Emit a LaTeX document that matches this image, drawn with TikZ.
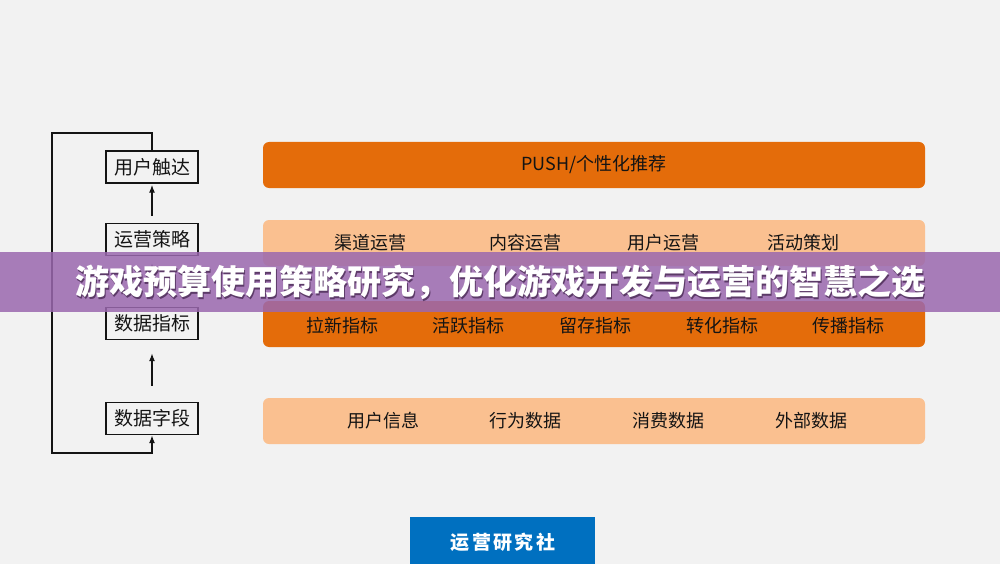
\documentclass[tikz,border=0pt]{standalone}
\usepackage{fontspec}
\setmainfont{Noto Sans CJK SC}
\newfontfamily\brandfont[LetterSpace=12]{Noto Sans CJK SC}
\usetikzlibrary{arrows.meta}
\definecolor{bggray}{RGB}{242,242,242}
\definecolor{darkorange}{RGB}{228,108,10}
\definecolor{lightorange}{RGB}{250,192,144}
\definecolor{bannerpurple}{RGB}{154,104,175}
\definecolor{bannershade}{RGB}{92,58,104}
\definecolor{blueplate}{RGB}{0,112,192}
\definecolor{ink}{RGB}{20,20,20}
\newcommand{\titletext}{游戏预算使用策略研究，优化游戏开发与运营的智慧之选}
\tikzset{
  stage/.style={draw=ink, line width=1.4pt, fill=bggray, minimum width=92pt, minimum height=32pt,
    inner sep=0pt, font=\fontsize{19}{19}\selectfont, text=ink},
  flow/.style={-{Latex[length=8pt,width=6pt]}, line width=1.4pt, draw=ink},
  bar/.style={rounded corners=6pt, minimum width=662pt, minimum height=46pt, inner sep=0pt},
  bartext/.style={font=\fontsize{18}{18}\selectfont, text=ink},
}
\begin{document}
\begin{tikzpicture}[x=1pt, y=-1pt]
  \clip (0,0) rectangle (1000,564);
  \fill[bggray] (0,0) rectangle (1000,564);

  % left column
  \node[stage] (touch) at (152,167) {用户触达};
  \node[stage] (strategy) at (152,239.5) {运营策略};
  \node[stage] (metric) at (152,323.5) {数据指标};
  \node[stage] (field) at (152,418.5) {数据字段};
  \draw[flow, shorten <=7pt, shorten >=1pt] (strategy) -- (touch);
  \draw[flow, shorten <=7pt, shorten >=7pt] (metric) -- (strategy);
  \draw[flow, shorten <=16pt, shorten >=13pt] (field) -- (metric);
  \coordinate (loopnw) at (52,133);
  \coordinate (loopsw) at (52,453);
  \draw[flow] (touch.north) |- (loopnw) -- (loopsw) -| (field.south);

  % right bars
  \node[bar, fill=darkorange, bartext] (push) at (594,165) {PUSH/个性化推荐};
  \node[bar, fill=lightorange] (ops) at (594,243) {};
  \node[bar, fill=darkorange] (index) at (594,324) {};
  \node[bar, fill=lightorange] (data) at (594,421) {};

  \node[bartext] (ops1) at (370,243) {渠道运营};
  \node[bartext] (ops2) at (525,243) {内容运营};
  \node[bartext] (ops3) at (663,243) {用户运营};
  \node[bartext] (ops4) at (803,243) {活动策划};

  \node[bartext] (index1) at (342,326) {拉新指标};
  \node[bartext] (index2) at (468,326) {活跃指标};
  \node[bartext] (index3) at (595,326) {留存指标};
  \node[bartext] (index4) at (722,326) {转化指标};
  \node[bartext] (index5) at (848,326) {传播指标};

  \node[bartext] (data1) at (383,421) {用户信息};
  \node[bartext] (data2) at (525,421) {行为数据};
  \node[bartext] (data3) at (668,421) {消费数据};
  \node[bartext] (data4) at (811,421) {外部数据};

  % bottom plate
  \node[fill=blueplate, minimum width=185pt, minimum height=52pt, anchor=north] (brand) at (502.5,517) {};
  \node[text=white, font=\brandfont\bfseries\fontsize{19}{19}\selectfont] (brandtxt) at (503,542) {运营研究社};

  % title banner
  \fill[bannerpurple, fill opacity=0.85] (0,252) rectangle (1000,312);
  \node[text=white, font=\bfseries\fontsize{34}{34}\selectfont] (title) at (500,283)
    {\rlap{\kern1.5pt\raisebox{-1.8pt}{\textcolor{bannershade}{\titletext}}}\titletext};
\end{tikzpicture}
\end{document}
